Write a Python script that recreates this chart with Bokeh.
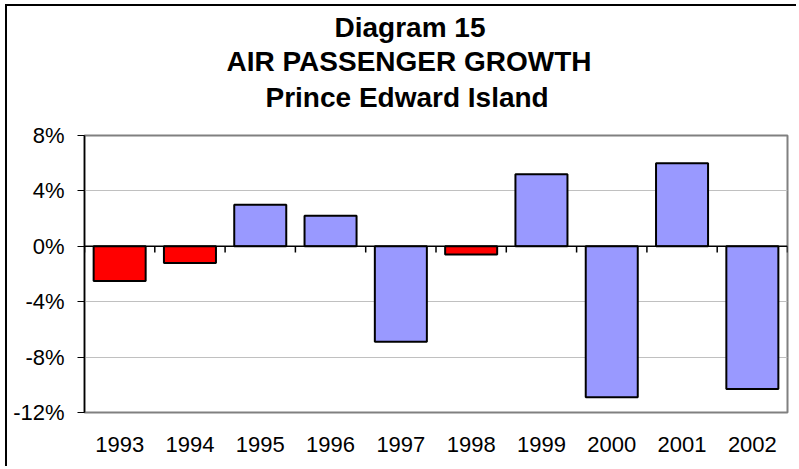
from bokeh.plotting import figure
from bokeh.models import Range1d, FixedTicker, Span, Title, ColumnDataSource
from bokeh.embed import file_html
from bokeh.resources import INLINE

# ---- data ----
years = ["1993", "1994", "1995", "1996", "1997", "1998", "1999", "2000", "2001", "2002"]
growth = [-2.5, -1.2, 3.0, 2.2, -6.9, -0.6, 5.2, -10.9, 6.0, -10.3]
red_years = ["1993", "1994", "1998"]
y_ticks = [-12, -8, -4, 0, 4, 8]
y_tick_labels = ["-12%", "-8%", "-4%", "0%", "4%", "8%"]
title_lines = ["Diagram 15", "AIR PASSENGER GROWTH", "Prince Edward Island"]

FONT = "Liberation Sans"
BLUE = "#9999FF"
RED = "#FF0000"

n = len(years)
centers = [i + 0.5 for i in range(n)]
colors = [RED if y in red_years else BLUE for y in years]
src = ColumnDataSource(dict(x=centers, top=growth, color=colors, year=years))

p = figure(width=791, height=462, x_range=Range1d(0, n), y_range=Range1d(y_ticks[0], y_ticks[-1]),
           output_backend="svg", toolbar_location=None,
           min_border_left=77, min_border_top=129, min_border_right=11, min_border_bottom=56)
p.margin = (4, 0, 0, 5)
p.styles = {"border-left": "2px solid black", "border-top": "2px solid black"}
p.background_fill_color = "white"
p.border_fill_color = "white"
p.outline_line_color = "#808080"
p.outline_line_width = 2
p.title.visible = False

# title block: panels stack outward from the frame
p.add_layout(Title(text=" ", text_font_size="1px", standoff=21), "above")  # spacer
title_offsets = [250, 142, 181]   # left offsets (px) so lines centre near x=410
title_standoffs = [-6, 8, -2]
for t, off, so in reversed(list(zip(title_lines, title_offsets, title_standoffs))):
    p.add_layout(Title(text=t, align="left", offset=off, text_font=FONT, text_font_size="28px",
                       text_font_style="bold", text_color="black", standoff=so), "above")

p.xgrid.grid_line_color = None
p.ygrid.ticker = FixedTicker(ticks=y_ticks)
p.ygrid.grid_line_color = "#C0C0C0"
p.ygrid.grid_line_width = 1

p.yaxis.ticker = FixedTicker(ticks=y_ticks)
p.yaxis.major_label_overrides = {t: l for t, l in zip(y_ticks, y_tick_labels)}
p.yaxis.axis_line_color = "black"
p.yaxis.axis_line_width = 1.5
p.yaxis.major_tick_line_color = "black"
p.yaxis.major_tick_in = 0
p.yaxis.major_tick_out = 7
p.yaxis.minor_tick_line_color = None
p.yaxis.major_label_standoff = 13
p.yaxis.major_label_text_font = FONT
p.yaxis.major_label_text_font_size = "22px"
p.yaxis.major_label_text_color = "black"

p.xaxis.ticker = FixedTicker(ticks=centers)
p.xaxis.major_label_overrides = {c: y for c, y in zip(centers, years)}
p.xaxis.axis_line_color = None
p.xaxis.major_tick_line_color = None
p.xaxis.minor_tick_line_color = None
p.xaxis.major_tick_in = 0
p.xaxis.major_tick_out = 0
p.xaxis.major_label_standoff = 24
p.xaxis.major_label_text_font = FONT
p.xaxis.major_label_text_font_size = "22px"
p.xaxis.major_label_text_color = "black"

p.vbar(x="x", top="top", bottom=0, width=0.74, fill_color="color", line_color="black",
       line_width=2, source=src)

p.add_layout(Span(location=0, dimension="width", line_color="black", line_width=1.5))
bounds = list(range(n + 1))
p.segment(x0=bounds, y0=[0] * len(bounds), x1=bounds, y1=[-0.45] * len(bounds),
          line_color="black", line_width=1.5)

open("out.html", "w").write(file_html(p, INLINE))
